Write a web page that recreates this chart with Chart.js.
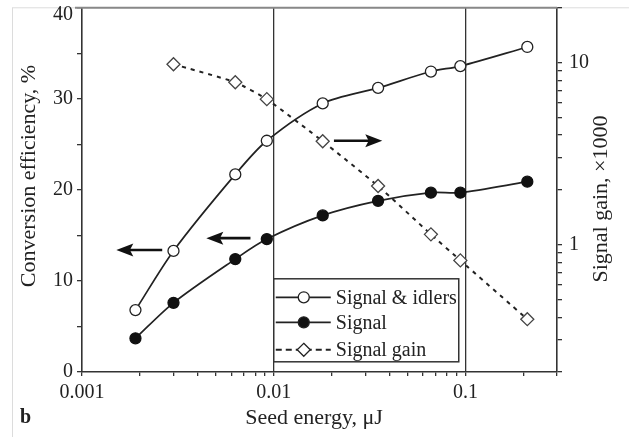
<!DOCTYPE html>
<html>
<head>
<meta charset="utf-8">
<script src="https://cdn.jsdelivr.net/npm/chart.js@4/dist/chart.umd.min.js"></script>
<style>
  html, body { margin: 0; padding: 0; background: #fff; }
  #wrap { width: 629px; height: 437px; }
</style>
</head>
<body>
<div id="wrap"><canvas id="chart" width="629" height="437"></canvas></div>
<script>
// ------------------------
// DATA
// ------------------------
const energy = [0.0019, 0.003, 0.0063, 0.0092, 0.018, 0.035, 0.066, 0.094, 0.21];
const signalIdlers = [6.8, 13.3, 21.7, 25.4, 29.5, 31.2, 33.0, 33.6, 35.7];
const signalOnly = [3.7, 7.6, 12.4, 14.6, 17.2, 18.8, 19.7, 19.7, 20.9];

const gainEnergy = [0.003, 0.0063, 0.0092, 0.018, 0.035, 0.066, 0.094, 0.21];
const signalGain = [9.8, 7.8, 6.3, 3.7, 2.1, 1.14, 0.82, 0.39];

const xTickLabels = [0.001, 0.01, 0.1];
const xGridLines = [0.01, 0.1];
const yTickLabels = [0, 10, 20, 30, 40];
const gainTickLabels = [1, 10];

// arrows pointing to the axis each curve belongs to (x from -> x to, y on left axis)
const arrows = [
  { from: 0.00262, to: 0.00151, y: 13.4 },
  { from: 0.00756, to: 0.00445, y: 14.7 },
  { from: 0.0206, to: 0.0368, y: 25.4 }
];

const FONT = "'Liberation Serif', 'DejaVu Serif', serif";
const INK = "#222";

// minor ticks 1..9 per decade for the log axes
function logTicks(decades, max) {
  const out = [];
  decades.forEach(d => {
    for (let k = 1; k <= 9; k++) {
      const v = Number((k * d).toPrecision(6));
      if (v <= max) out.push(v);
    }
  });
  return out;
}
const xTicks = logTicks([0.001, 0.01, 0.1], 0.3);
const gainTicks = logTicks([0.1, 1, 10], 20).filter(v => v >= 0.2);

// ------------------------
// DRAW HELPERS
// ------------------------
function drawArrow(ctx, x1, x2, y) {
  const dir = x2 > x1 ? 1 : -1;
  const head = 17;
  ctx.save();
  ctx.strokeStyle = "#111";
  ctx.fillStyle = "#111";
  ctx.lineWidth = 2.6;
  ctx.beginPath();
  ctx.moveTo(x1, y);
  ctx.lineTo(x2 - dir * head * 0.6, y);
  ctx.stroke();
  ctx.beginPath();
  ctx.moveTo(x2, y);
  ctx.lineTo(x2 - dir * head, y - 6.5);
  ctx.lineTo(x2 - dir * head * 0.8, y);
  ctx.lineTo(x2 - dir * head, y + 6.5);
  ctx.closePath();
  ctx.fill();
  ctx.restore();
}

function drawMarker(ctx, style, x, y, fill) {
  ctx.save();
  ctx.lineWidth = 1.3;
  ctx.strokeStyle = INK;
  ctx.fillStyle = fill;
  ctx.beginPath();
  if (style === "circle") {
    ctx.arc(x, y, 5.5, 0, Math.PI * 2);
  } else {
    const r = 6.5;
    ctx.moveTo(x, y - r);
    ctx.lineTo(x + r, y);
    ctx.lineTo(x, y + r);
    ctx.lineTo(x - r, y);
    ctx.closePath();
  }
  ctx.fill();
  ctx.stroke();
  ctx.restore();
}

const decorPlugin = {
  id: "decor",
  beforeDraw(chart) {
    const ctx = chart.ctx;
    ctx.save();
    ctx.fillStyle = "#fff";
    ctx.fillRect(0, 0, chart.width, chart.height);
    // faint scan frame
    ctx.strokeStyle = "#dcdcdc";
    ctx.lineWidth = 1;
    ctx.beginPath();
    ctx.moveTo(12.5, chart.chartArea.top);
    ctx.lineTo(12.5, chart.height);
    ctx.moveTo(12, chart.chartArea.top);
    ctx.lineTo(chart.width, chart.chartArea.top);
    ctx.stroke();
    ctx.restore();
  },
  afterDraw(chart) {
    const ctx = chart.ctx;
    const area = chart.chartArea;
    const xs = chart.scales.x;
    const ys = chart.scales.y;

    // top border
    ctx.save();
    ctx.strokeStyle = "#888";
    ctx.lineWidth = 2;
    ctx.beginPath();
    ctx.moveTo(area.left - 7, area.top);
    ctx.lineTo(area.right, area.top);
    ctx.stroke();
    ctx.restore();

    arrows.forEach(a => {
      drawArrow(ctx, xs.getPixelForValue(a.from), xs.getPixelForValue(a.to), ys.getPixelForValue(a.y));
    });

    // ------------------------
    // LEGEND BOX
    // ------------------------
    const lx = xs.getPixelForValue(0.01);
    const ly = area.top + 271;
    const lw = 185, lh = 83;
    ctx.save();
    ctx.fillStyle = "#fff";
    ctx.fillRect(lx, ly, lw, lh);
    ctx.strokeStyle = "#333";
    ctx.lineWidth = 1.5;
    ctx.strokeRect(lx, ly, lw, lh);

    const rows = [
      { label: "Signal & idlers", style: "circle", fill: "#fff", dash: [], dy: 18.5 },
      { label: "Signal", style: "circle", fill: "#111", dash: [], dy: 43.5 },
      { label: "Signal gain", style: "diamond", fill: "#fff", dash: [6, 4], dy: 71 }
    ];
    rows.forEach(r => {
      const y = ly + r.dy;
      ctx.strokeStyle = INK;
      ctx.lineWidth = r.dash.length ? 2 : 1.7;
      ctx.setLineDash(r.dash);
      ctx.beginPath();
      ctx.moveTo(lx + 2, y);
      ctx.lineTo(lx + 57, y);
      ctx.stroke();
      ctx.setLineDash([]);
      drawMarker(ctx, r.style, lx + 30, y, r.fill);
      ctx.fillStyle = INK;
      ctx.font = "20px " + FONT;
      ctx.textAlign = "left";
      ctx.textBaseline = "middle";
      ctx.fillText(r.label, lx + 62, y + 1);
    });
    ctx.restore();

    // ------------------------
    // AXIS TITLES
    // ------------------------
    ctx.save();
    ctx.fillStyle = INK;
    ctx.font = "22px " + FONT;
    ctx.textBaseline = "alphabetic";
    ctx.textAlign = "center";

    ctx.save();
    ctx.translate(35, 176);
    ctx.rotate(-Math.PI / 2);
    ctx.fillText("Conversion efficiency, %", 0, 0);
    ctx.restore();

    ctx.save();
    ctx.translate(607, 199);
    ctx.rotate(-Math.PI / 2);
    ctx.fillText("Signal gain, \u00d71000", 0, 0);
    ctx.restore();

    ctx.fillText("Seed energy, \u03bcJ", 314, 424);

    ctx.font = "bold 20px " + FONT;
    ctx.textAlign = "left";
    ctx.fillText("b", 20, 423);
    ctx.restore();
  }
};

// ------------------------
// CHART
// ------------------------
const tickFont = { family: FONT, size: 20 };

new Chart(document.getElementById("chart"), {
  type: "line",
  data: {
    datasets: [
      {
        label: "Signal & idlers",
        data: energy.map((x, i) => ({ x, y: signalIdlers[i] })),
        yAxisID: "y",
        borderColor: INK,
        borderWidth: 1.7,
        tension: 0.3,
        pointStyle: "circle",
        pointRadius: 5.5,
        pointBorderWidth: 1.3,
        pointBackgroundColor: "#fff",
        pointBorderColor: INK
      },
      {
        label: "Signal",
        data: energy.map((x, i) => ({ x, y: signalOnly[i] })),
        yAxisID: "y",
        borderColor: INK,
        borderWidth: 1.7,
        tension: 0.3,
        pointStyle: "circle",
        pointRadius: 5.5,
        pointBorderWidth: 1.3,
        pointBackgroundColor: "#111",
        pointBorderColor: "#111"
      },
      {
        label: "Signal gain",
        data: gainEnergy.map((x, i) => ({ x, y: signalGain[i] })),
        yAxisID: "y2",
        borderColor: INK,
        borderWidth: 2,
        borderDash: [4, 5],
        tension: 0.15,
        pointStyle: "rectRot",
        pointRadius: 6.5,
        pointBorderWidth: 1.3,
        pointBackgroundColor: "#fff",
        pointBorderColor: "#444"
      }
    ]
  },
  options: {
    responsive: false,
    animation: false,
    layout: { padding: { top: 7, left: 0, right: 0, bottom: 0 } },
    plugins: {
      legend: { display: false },
      tooltip: { enabled: false }
    },
    scales: {
      x: {
        type: "logarithmic",
        min: 0.001,
        max: 0.3,
        afterBuildTicks: s => { s.ticks = xTicks.map(v => ({ value: v })); },
        afterFit: s => { s.height = 65; s.paddingLeft = 0; s.paddingRight = 0; },
        grid: {
          color: c => (c.tick && xGridLines.includes(c.tick.value)) ? "#333" : "rgba(0,0,0,0)",
          tickColor: "#333",
          lineWidth: 1.3,
          tickLength: 4
        },
        border: { color: "#333", width: 1.6 },
        ticks: {
          autoSkip: false,
          maxRotation: 0,
          padding: 5,
          color: INK,
          font: tickFont,
          callback: v => xTickLabels.includes(v) ? String(v) : ""
        }
      },
      y: {
        type: "linear",
        position: "left",
        min: 0,
        max: 40,
        afterFit: s => { s.width = 82; s.paddingTop = 0; s.paddingBottom = 0; },
        grid: { drawOnChartArea: false, color: "#333", tickLength: 5, lineWidth: 1.3 },
        border: { color: "#333", width: 1.6 },
        ticks: {
          stepSize: 5,
          padding: 4,
          color: INK,
          // top label sits a little below its tick so it is not cut by the edge
          font: c => (c.tick && c.tick.value === 40) ? { family: FONT, size: 20, lineHeight: "13px" } : tickFont,
          callback: v => v === 40 ? ["", "40"] : (yTickLabels.includes(v) ? String(v) : "")
        }
      },
      y2: {
        type: "logarithmic",
        position: "right",
        min: 0.2,
        max: 20,
        afterBuildTicks: s => { s.ticks = gainTicks.map(v => ({ value: v })); },
        afterFit: s => { s.width = 72; s.paddingTop = 0; s.paddingBottom = 0; },
        grid: { drawOnChartArea: false, color: "#333", tickLength: 5, lineWidth: 1.3 },
        border: { color: "#333", width: 1.6 },
        ticks: {
          autoSkip: false,
          padding: 7,
          color: INK,
          font: tickFont,
          callback: v => gainTickLabels.includes(v) ? String(v) : ""
        }
      }
    }
  },
  plugins: [decorPlugin]
});
</script>
</body>
</html>
